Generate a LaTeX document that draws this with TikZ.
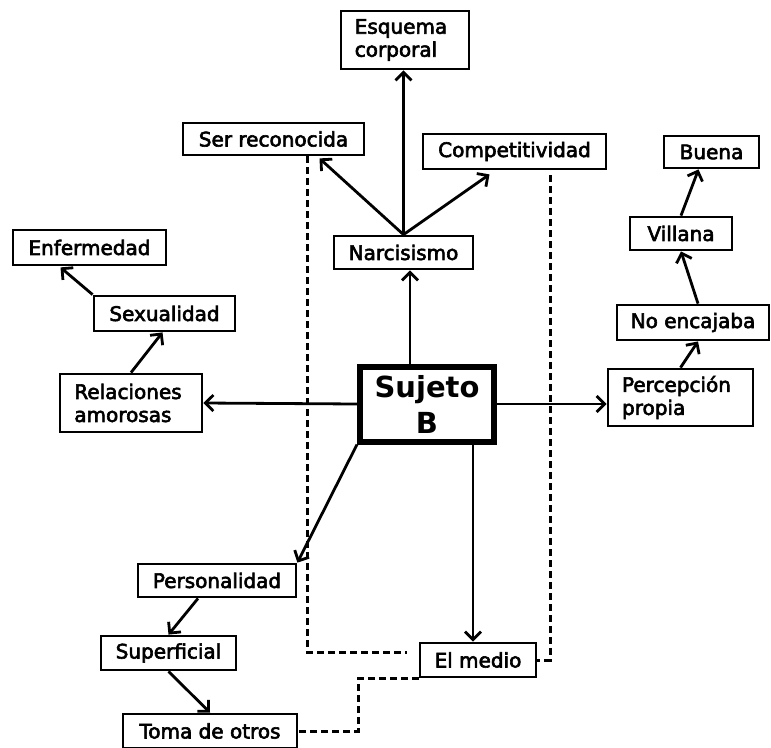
\documentclass[tikz,border=0pt]{standalone}
\usepackage{fontspec}
\setmainfont{DejaVu Sans}
\newfontfamily\boxfont{DejaVu Sans}[FakeBold=3]
\usetikzlibrary{arrows.meta,calc}
\begin{document}
\begin{tikzpicture}[x=1pt,y=-1pt,
  box/.style={draw,line width=2.8pt,inner sep=0pt,font=\boxfont\fontsize{20}{23}\selectfont,align=left},
  arr/.style={line width=2.8pt,-{Straight Barb[length=8pt,width=16pt]}},
  dsh/.style={line width=3pt,dash pattern=on 7pt off 4pt}]
\useasboundingbox (0,0) rectangle (771,747);
% nodes
\node[box,minimum width=128pt,minimum height=58pt] (esq) at (405,40) {\hspace*{-8pt}Esquema\\\hspace*{-8pt}corporal};
\node[box,minimum width=181pt,minimum height=32pt] (ser) at (273.5,139) {Ser reconocida};
\node[box,minimum width=183pt,minimum height=35pt] (comp) at (514.5,151.5) {Competitividad};
\node[box,minimum width=139pt,minimum height=33pt] (narc) at (403.5,252.5) {Narcisismo};
\node[box,minimum width=153pt,minimum height=35pt] (enf) at (89.5,247.5) {Enfermedad};
\node[box,minimum width=141pt,minimum height=35pt] (sex) at (164.5,313.5) {Sexualidad};
\node[box,minimum width=142pt,minimum height=58pt] (rel) at (131,403) {\hspace*{-6pt}Relaciones\\\hspace*{-6pt}amorosas};
\node[draw,line width=6pt,inner sep=0pt,minimum width=134pt,minimum height=75pt,align=center,
  font=\bfseries\fontsize{29}{36}\selectfont] (suj) at (427,404) {Sujeto\\B};
\node[box,minimum width=145pt,minimum height=57pt] (perc) at (680.5,397.5) {\hspace*{-8pt}Percepción\\\hspace*{-8pt}propia};
\node[box,minimum width=152pt,minimum height=35pt] (noen) at (693,322.5) {No encajaba};
\node[box,minimum width=102pt,minimum height=33pt] (vil) at (681,233.5) {Villana};
\node[box,minimum width=95pt,minimum height=32pt] (bue) at (711.5,152) {Buena};
\node[box,minimum width=158pt,minimum height=33pt] (pers) at (217,580.5) {Personalidad};
\node[box,minimum width=135pt,minimum height=34pt] (sup) at (168.5,653) {Superficial};
\node[box,minimum width=174pt,minimum height=34pt] (toma) at (210,731) {Toma de otros};
\node[box,minimum width=116pt,minimum height=34pt] (medio) at (478,660) {El medio};
% helper coordinates
\coordinate (sn) at ($(suj.north)+(-17,0)$);
\coordinate (sd) at ($(suj.south)+(46,0)$);
\coordinate (da) at (307,0);
\coordinate (dc) at (550,0);
% arrows
\draw[arr] (narc.north) -- (narc.north |- esq.south);
\draw[arr] (narc.north) -- ($(ser.south)+(46,2)$);
\draw[arr] (narc.north) -- ($(comp.south)+(-25,4)$);
\draw[arr] (sn) -- (sn |- narc.south);
\draw[arr] (suj.west) -- (rel.east);
\draw[arr] (suj.east) -- (suj.east -| perc.west);
\draw[arr] (suj.south west) -- (pers.north east);
\draw[arr] (sd) -- (sd |- medio.north);
\draw[arr] (rel.north) -- ($(sex.south)+(-2,0)$);
\draw[arr] (sex.north west) -- ($(enf.south)+(-29,1)$);
\draw[arr] (perc.north) -- ($(noen.south)+(5,0)$);
\draw[arr] ($(noen.north)+(5,0)$) -- (vil.south);
\draw[arr] (vil.north) -- ($(bue.south)+(-13,0)$);
\draw[arr] ($(pers.south)+(-19,0)$) -- (sup.north);
\draw[arr] (sup.south) -- (toma.north);
% dashed connectors
\draw[dsh] (ser.south -| da) |- ($(medio.west)+(-12,-8)$);
\draw[dsh] ($(comp.south -| dc)+(0,5)$) |- (medio.east);
\draw[dsh] (medio.south west) -- ++(-60,0) |- (toma.east);
\end{tikzpicture}
\end{document}
